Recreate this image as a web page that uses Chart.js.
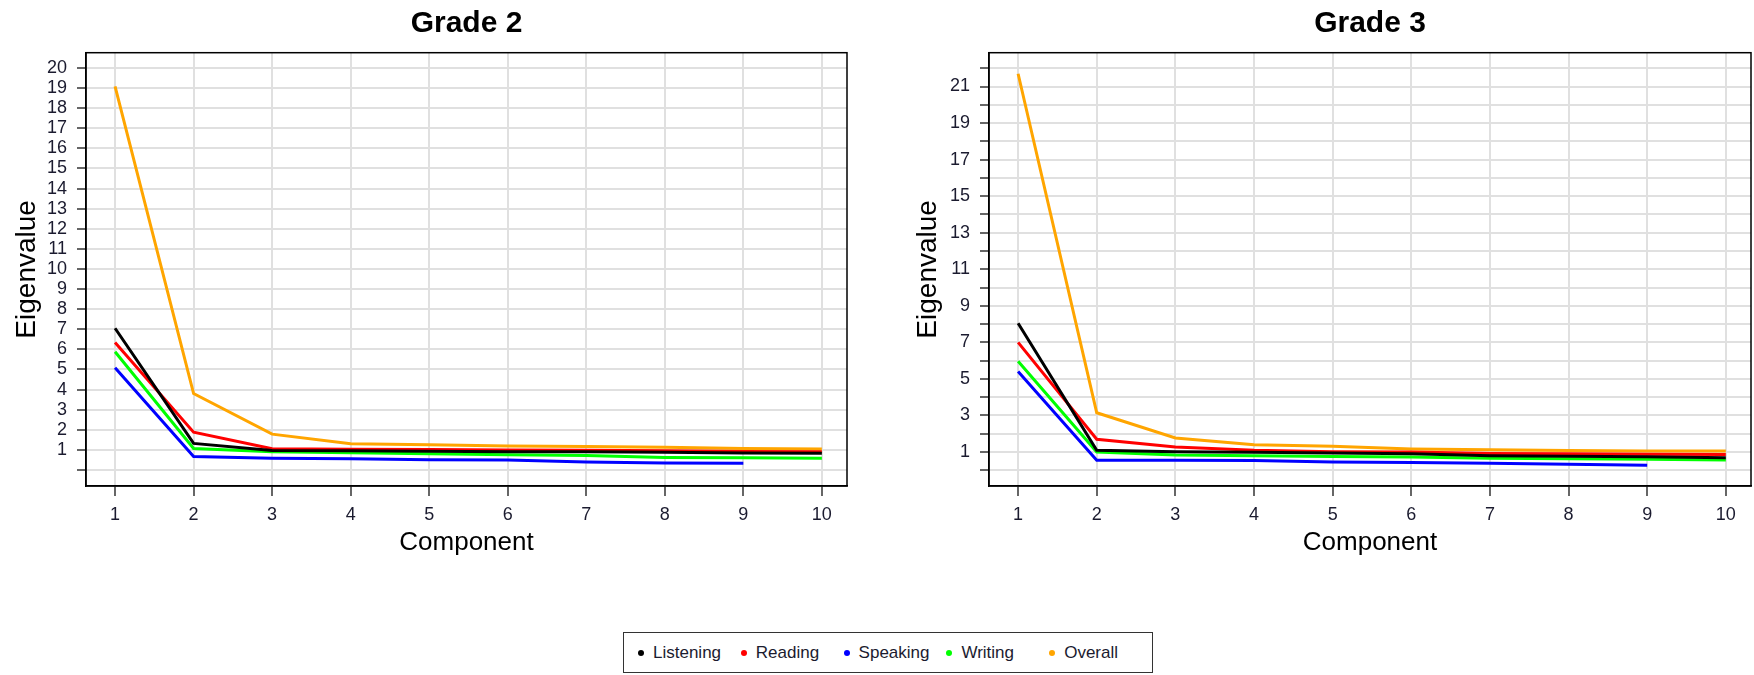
<!DOCTYPE html>
<html>
<head>
<meta charset="utf-8">
<script src="https://cdn.jsdelivr.net/npm/chart.js@4.4.1/dist/chart.umd.min.js"></script>
<style>
  body { margin: 0; background: #fff; width: 1754px; height: 675px; position: relative; overflow: hidden;
         font-family: "Liberation Sans", Arial, sans-serif; }
  .panel { position: absolute; top: 0; width: 877px; height: 560px; }
  #legend { position: absolute; left: 623px; top: 632px; width: 530px; height: 41px; box-sizing: border-box;
            border: 1.5px solid #333; display: flex; align-items: center; padding-left: 14px; }
  .item { width: 103.5px; display: flex; align-items: center; font-size: 17px; color: #1b1b2f; }
  .dot { width: 6px; height: 6px; border-radius: 50%; margin-right: 9px; }
</style>
</head>
<body>
<div class="panel" style="left:0"><canvas id="grade2"></canvas></div>
<div class="panel" style="left:877px"><canvas id="grade3"></canvas></div>
<div id="legend"></div>
<script>
// components on the x axis
const components = [1, 2, 3, 4, 5, 6, 7, 8, 9, 10];
const seriesNames = ["Listening", "Reading", "Speaking", "Writing", "Overall"];
const seriesColors = ["#000000", "#ff0000", "#0000ff", "#00ff00", "#ffa500"];

// Grade 2 eigenvalues
const g2Listening = [7.05, 1.32, 0.97, 0.95, 0.93, 0.91, 0.90, 0.88, 0.84, 0.83];
const g2Reading   = [6.34, 1.88, 1.05, 1.03, 1.01, 0.99, 0.98, 0.96, 0.92, 0.90];
const g2Speaking  = [5.08, 0.67, 0.58, 0.55, 0.51, 0.49, 0.40, 0.35, 0.33];
const g2Writing   = [5.88, 1.07, 0.90, 0.86, 0.80, 0.76, 0.72, 0.62, 0.60, 0.58];
const g2Overall   = [19.08, 3.80, 1.78, 1.30, 1.25, 1.19, 1.16, 1.13, 1.06, 1.04];

// Grade 3 eigenvalues
const g3Listening = [8.05, 1.09, 1.02, 0.98, 0.95, 0.90, 0.80, 0.77, 0.74, 0.68];
const g3Reading   = [7.00, 1.70, 1.27, 1.09, 1.02, 1.00, 0.92, 0.90, 0.88, 0.86];
const g3Speaking  = [5.40, 0.55, 0.55, 0.53, 0.45, 0.42, 0.38, 0.33, 0.28];
const g3Writing   = [5.97, 1.00, 0.84, 0.80, 0.76, 0.73, 0.66, 0.63, 0.60, 0.56];
const g3Overall   = [21.70, 3.15, 1.77, 1.40, 1.31, 1.17, 1.12, 1.08, 1.06, 1.05];

// tick values
const xTicks = [1, 2, 3, 4, 5, 6, 7, 8, 9, 10];
const g2YTicks = [0, 1, 2, 3, 4, 5, 6, 7, 8, 9, 10, 11, 12, 13, 14, 15, 16, 17, 18, 19, 20];
const g3YTicks = [0, 1, 2, 3, 4, 5, 6, 7, 8, 9, 10, 11, 12, 13, 14, 15, 16, 17, 18, 19, 20, 21, 22];

const FONT = '"Liberation Sans", Arial, sans-serif';

// black box round the plot area
const framePlugin = {
  id: 'frame',
  afterDraw(chart) {
    const { ctx, chartArea: a } = chart;
    ctx.save();
    ctx.strokeStyle = '#000';
    ctx.lineWidth = 1.5;
    ctx.strokeRect(a.left, a.top, a.right - a.left, a.bottom - a.top);
    ctx.restore();
  }
};

function makeChart(id, title, series, yRange, yTicks, showLabel, axisWidth, rightPad, yTitlePad) {
  const datasets = series.map((vals, i) => ({
    label: seriesNames[i],
    data: vals.map((v, j) => ({ x: components[j], y: v })),
    borderColor: seriesColors[i],
    backgroundColor: seriesColors[i],
    borderWidth: 3,
    pointRadius: 0,
    tension: 0,
    fill: false
  }));

  return new Chart(document.getElementById(id), {
    type: 'line',
    data: { datasets },
    options: {
      responsive: true,
      maintainAspectRatio: false,
      animation: false,
      layout: { padding: { left: 0, right: rightPad, top: 0, bottom: 0 } },
      plugins: {
        legend: { display: false },
        tooltip: { enabled: false },
        title: {
          display: true,
          fullSize: false,
          text: title,
          color: '#000',
          font: { family: FONT, size: 30, weight: 'bold' },
          padding: { top: 6, bottom: 10.7 }
        }
      },
      scales: {
        x: {
          type: 'linear',
          min: 0.63,
          max: 10.32,
          afterBuildTicks: axis => { axis.ticks = xTicks.map(v => ({ value: v })); },
          afterFit: axis => { axis.height = 74; },
          grid: { color: '#e0e0e0', lineWidth: 2, tickColor: '#000', tickLength: 10, tickWidth: 1.2 },
          border: { color: '#000', width: 1.5 },
          ticks: { color: '#1b1b2f', font: { family: FONT, size: 18 }, padding: 8, autoSkip: false, maxRotation: 0 },
          title: { display: true, text: 'Component', color: '#000', font: { family: FONT, size: 26 }, padding: { top: 0, bottom: 2 } }
        },
        y: {
          min: yRange[0],
          max: yRange[1],
          afterBuildTicks: axis => { axis.ticks = yTicks.map(v => ({ value: v })); },
          afterFit: axis => { axis.width = axisWidth; },
          grid: { color: '#e0e0e0', lineWidth: 2, tickColor: '#000', tickLength: 9, tickWidth: 1.2 },
          border: { color: '#000', width: 1.5 },
          ticks: {
            color: '#1b1b2f',
            font: { family: FONT, size: 18 },
            padding: 10,
            autoSkip: false,
            callback: v => (showLabel(v) ? v : '')
          },
          title: { display: true, text: 'Eigenvalue', color: '#000', font: { family: FONT, size: 28 }, padding: { top: yTitlePad, bottom: 0 } }
        }
      }
    },
    plugins: [framePlugin]
  });
}

makeChart('grade2', 'Grade 2',
  [g2Listening, g2Reading, g2Speaking, g2Writing, g2Overall],
  [-0.8, 20.76], g2YTicks, v => v >= 1, 86, 30, 10);

makeChart('grade3', 'Grade 3',
  [g3Listening, g3Reading, g3Speaking, g3Writing, g3Overall],
  [-0.86, 22.85], g3YTicks, v => v % 2 === 1, 112, 3, 34);

// legend row
const legend = document.getElementById('legend');
seriesNames.forEach((name, i) => {
  const item = document.createElement('div');
  item.className = 'item';
  const dot = document.createElement('span');
  dot.className = 'dot';
  dot.style.background = seriesColors[i];
  const label = document.createElement('span');
  label.textContent = name;
  item.appendChild(dot);
  item.appendChild(label);
  legend.appendChild(item);
});
</script>
</body>
</html>
